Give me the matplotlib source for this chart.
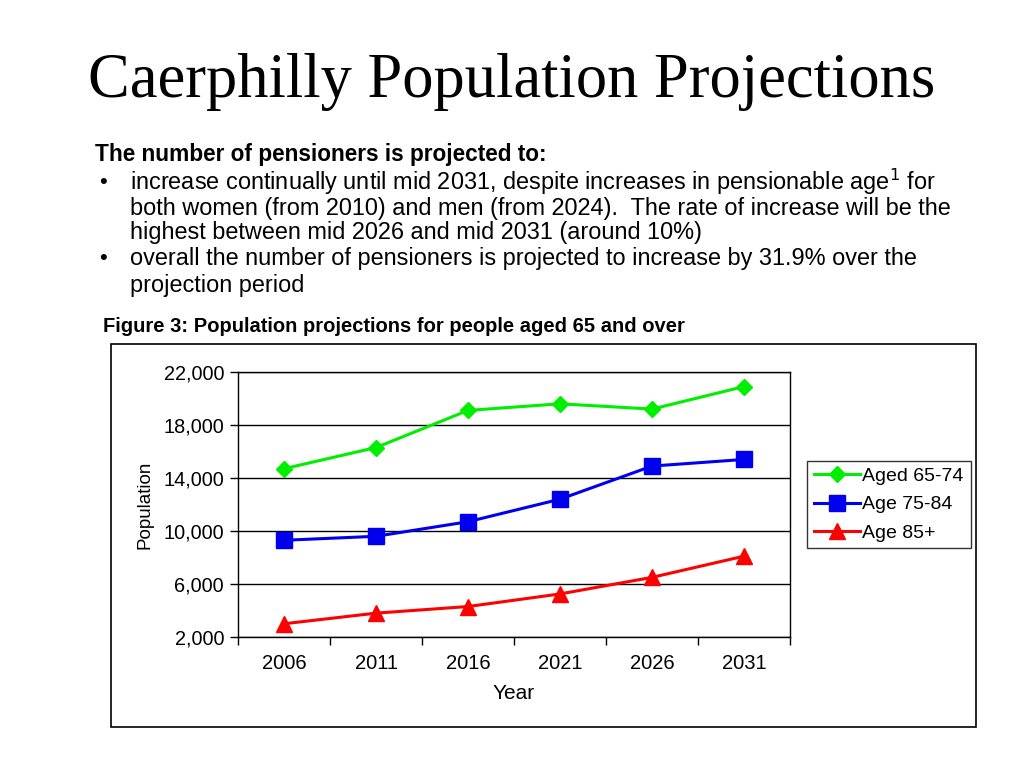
import numpy as np
import matplotlib
matplotlib.use("Agg")
from matplotlib import pyplot as plt
from matplotlib.patches import Rectangle

# data
years = ["2006", "2011", "2016", "2021", "2026", "2031"]
aged_65_74 = [14700, 16300, 19100, 19600, 19200, 20900]
age_75_84 = [9300, 9600, 10700, 12400, 14900, 15400]
age_85_plus = [3000, 3800, 4300, 5250, 6500, 8100]
y_ticks = [2000, 6000, 10000, 14000, 18000, 22000]

W, H = 1024, 768
plt.rcParams['font.family'] = ['Liberation Sans', 'DejaVu Sans']

fig = plt.figure(figsize=(W / 100, H / 100), dpi=100)


def fx(px):
    return px / W


def fy(py):
    return 1 - py / H


# slide title
fig.text(fx(512), fy(82), "Caerphilly Population Projections", ha='center', va='center',
         fontsize=45, family=['Liberation Serif', 'DejaVu Serif'])

# text block
fig.text(fx(95), fy(155), "The number of pensioners is projected to:", ha='left', va='center',
         fontsize=16.3, fontweight='bold')
bullets = [(182, True, "increase continually until mid 2031, despite increases in pensionable age$^{1}$ for"),
           (208, False, "both women (from 2010) and men (from 2024).  The rate of increase will be the"),
           (232, False, "highest between mid 2026 and mid 2031 (around 10%)"),
           (259, True, "overall the number of pensioners is projected to increase by 31.9% over the"),
           (286, False, "projection period")]
for y, dot, line in bullets:
    if dot:
        fig.text(fx(99), fy(y), "\u2022", ha='left', va='center', fontsize=16)
    fig.text(fx(130), fy(y), line, ha='left', va='center', fontsize=16.9)

fig.text(fx(103), fy(327), "Figure 3: Population projections for people aged 65 and over",
         ha='left', va='center', fontsize=14.5, fontweight='bold')

# chart frame
fig.patches.append(Rectangle((fx(111), fy(727)), fx(976) - fx(111), fy(344) - fy(727),
                             transform=fig.transFigure, fill=False, edgecolor='black', lw=1.2))

ax = fig.add_axes([fx(238), fy(637), fx(790) - fx(238), fy(372) - fy(637)])
x = np.arange(len(years))

ax.plot(x, aged_65_74, color='#00ee00', lw=2.2, marker='D', markersize=8, label='Aged 65-74')
ax.plot(x, age_75_84, color='#0000ee', lw=2.2, marker='s', markersize=11, label='Age 75-84')
ax.plot(x, age_85_plus, color='#ff0000', lw=2.2, marker='^', markersize=12, label='Age 85+')

ax.set_xlim(-0.5, len(years) - 0.5)
ax.set_ylim(2000, 22000)
ax.set_yticks(y_ticks)
ax.set_yticklabels([f"{v:,}" for v in y_ticks])
ax.set_xticks(x)
ax.set_xticklabels(years)
ax.set_xticks(np.arange(len(years) + 1) - 0.5, minor=True)
ax.tick_params(axis='x', which='major', length=0, pad=12, labelsize=14.5)
ax.tick_params(axis='x', which='minor', length=6, width=1, direction='out')
ax.tick_params(axis='y', length=6, width=1, labelsize=14.3, pad=4)
ax.yaxis.grid(True, color='black', lw=1)
ax.set_axisbelow(True)
for s in ax.spines.values():
    s.set_linewidth(1)
    s.set_color('black')

ax.set_xlabel("Year", fontsize=15, labelpad=8)
ax.set_ylabel("Population", fontsize=13.5, labelpad=7)

leg = ax.legend(loc='center left', bbox_to_anchor=(fx(807 - 238) / fx(552), 0.5), frameon=True,
                fancybox=False, edgecolor='black', fontsize=14, handlelength=2.4,
                handletextpad=0.1, borderpad=0.35, labelspacing=0.55, borderaxespad=0)
leg.get_frame().set_linewidth(1)

fig.savefig("out.png", dpi=100)
